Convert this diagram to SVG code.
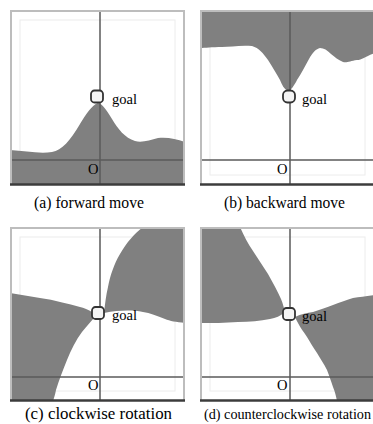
<svg xmlns="http://www.w3.org/2000/svg" width="373" height="424" viewBox="0 0 373 424">
  <style>
    .bg { fill: #ffffff; }
    .fill { fill: #808080; }
    .inner { fill: none; stroke: #ececec; stroke-width: 1; }
    .edge-light { stroke: #bdbdbd; stroke-width: 2; fill: none; }
    .edge-dark { stroke: #3c3c3c; stroke-width: 2.5; fill: none; }
    .axis { stroke: #5a5a5a; stroke-width: 1.5; fill: none; }
    .goal-box { fill: #f4f4f4; stroke: #333333; stroke-width: 1.8; }
    .lbl { font-family: "Liberation Serif", "Times New Roman", serif; font-size: 14.5px; fill: #000; }
    .cap { font-family: "Liberation Serif", "Times New Roman", serif; font-size: 16px; fill: #000; }
    .cap-long { font-family: "Liberation Serif", "Times New Roman", serif; font-size: 14.2px; fill: #000; }
  </style>

  <rect width="373" height="424" fill="#ffffff"/>

  <!-- (a) forward move -->
  <g id="panel-a">
    <rect class="bg" x="10" y="10" width="175" height="175"/>
    <rect class="inner" x="20" y="20" width="155" height="155"/>
    <path class="fill" d="M10,150 C25,151 40,154 52,152 C62,150 70,141 80,124 C86,114 92,105 98,103 C103,104 107,111 112,119 C118,129 125,138 135,141 C142,143 150,140 158,138 C168,137 176,139 185,142 L185,185 L10,185 Z"/>
    <line class="axis" x1="100" y1="10" x2="100" y2="185"/>
    <line class="axis" x1="10" y1="160" x2="185" y2="160"/>
    <path class="edge-light" d="M11,185 L11,11 L184,11 L184,185"/>
    <line class="edge-dark" x1="10" y1="184.5" x2="185" y2="184.5"/>
    <rect class="goal-box" x="91" y="90.5" width="12" height="12" rx="3.5"/>
    <text class="lbl" x="112" y="104">goal</text>
    <text class="lbl" x="88" y="174">O</text>
    <text class="cap" x="34" y="208" textLength="110" lengthAdjust="spacingAndGlyphs">(a) forward move</text>
  </g>

  <!-- (b) backward move -->
  <g id="panel-b">
    <rect class="bg" x="200" y="10" width="175" height="175"/>
    <rect class="inner" x="210" y="20" width="155" height="155"/>
    <path class="fill" d="M200,10 L375,10 L375,53 C366,56 362,60 357,60 C350,61 347,63 343,62 C338,60 335,57 331,54 C327,50 324,48 320,48 C316,49 313,52 309,59 C305,66 301,74 297,80 C294,86 291,90 288,91 C284,89 282,85 280,80 C276,73 272,66 268,60 C263,53 259,48 252,46 C240,45 230,47 222,47 C212,47 205,48 200,48 Z"/>
    <line class="axis" x1="290" y1="10" x2="290" y2="185"/>
    <line class="axis" x1="200" y1="160" x2="375" y2="160"/>
    <path class="edge-light" d="M201,185 L201,11 L375,11"/>
    <line class="edge-dark" x1="200" y1="184.5" x2="375" y2="184.5"/>
    <rect class="goal-box" x="283" y="90.5" width="12" height="12" rx="4.5"/>
    <text class="lbl" x="302" y="104">goal</text>
    <text class="lbl" x="277" y="174">O</text>
    <text class="cap" x="224" y="208" textLength="121" lengthAdjust="spacingAndGlyphs">(b) backward move</text>
  </g>

  <!-- (c) clockwise rotation -->
  <g id="panel-c">
    <rect class="bg" x="10" y="227" width="175" height="174"/>
    <rect class="inner" x="20" y="237" width="155" height="154"/>
    <path class="fill" d="M143,227 L185,227 L185,323 C176,322 170,321 165,319 C157,316 150,313 143,312 C132,310 120,310 104,313 C105,304 106,295 108,287 C110,276 114,264 120,254 C127,242 134,234 143,227 Z"/>
    <path class="fill" d="M10,293 C20,295 30,296 40,298 C55,300 68,304 80,307 C88,309 93,312 96,316 C92,320 87,326 82,332 C76,340 71,350 67,360 C63,370 59,380 56,390 C55,395 54,398 53,401 L10,401 Z"/>
    <line class="axis" x1="100" y1="227" x2="100" y2="401"/>
    <line class="axis" x1="10" y1="377" x2="185" y2="377"/>
    <path class="edge-light" d="M11,401 L11,228 L184,228 L184,401"/>
    <line class="edge-dark" x1="10" y1="400.5" x2="185" y2="400.5"/>
    <rect class="goal-box" x="92" y="307" width="12" height="12" rx="3.5"/>
    <text class="lbl" x="112" y="320">goal</text>
    <text class="lbl" x="88" y="390">O</text>
    <text class="cap" x="25" y="419" textLength="147" lengthAdjust="spacingAndGlyphs">(c) clockwise rotation</text>
  </g>

  <!-- (d) counterclockwise rotation -->
  <g id="panel-d">
    <rect class="bg" x="200" y="227" width="175" height="174"/>
    <rect class="inner" x="210" y="237" width="155" height="154"/>
    <path class="fill" d="M200,227 L240,227 C244,236 248,244 253,251 C258,259 263,266 268,274 C273,283 278,292 281,299 C283,304 284,308 285,312 C280,316 276,318 270,319 C260,321 250,322 238,322 C225,323 212,323 200,323 Z"/>
    <path class="fill" d="M295,317 C301,314 307,313 313,312 C320,310 327,307 333,305 C340,302 347,300 353,298 C360,297 366,296 375,295 L375,401 L337,401 C336,396 335,392 333,387 C331,381 329,375 327,370 C324,364 320,358 317,353 C313,347 310,342 307,337 C303,331 299,326 295,317 Z"/>
    <line class="axis" x1="290" y1="227" x2="290" y2="401"/>
    <line class="axis" x1="200" y1="377" x2="375" y2="377"/>
    <path class="edge-light" d="M201,401 L201,228 L375,228"/>
    <line class="edge-dark" x1="200" y1="400.5" x2="375" y2="400.5"/>
    <rect class="goal-box" x="283" y="308" width="12" height="12" rx="3.5"/>
    <text class="lbl" x="302" y="321">goal</text>
    <text class="lbl" x="277" y="390">O</text>
    <text class="cap-long" x="204" y="419">(d) counterclockwise rotation</text>
  </g>
</svg>
